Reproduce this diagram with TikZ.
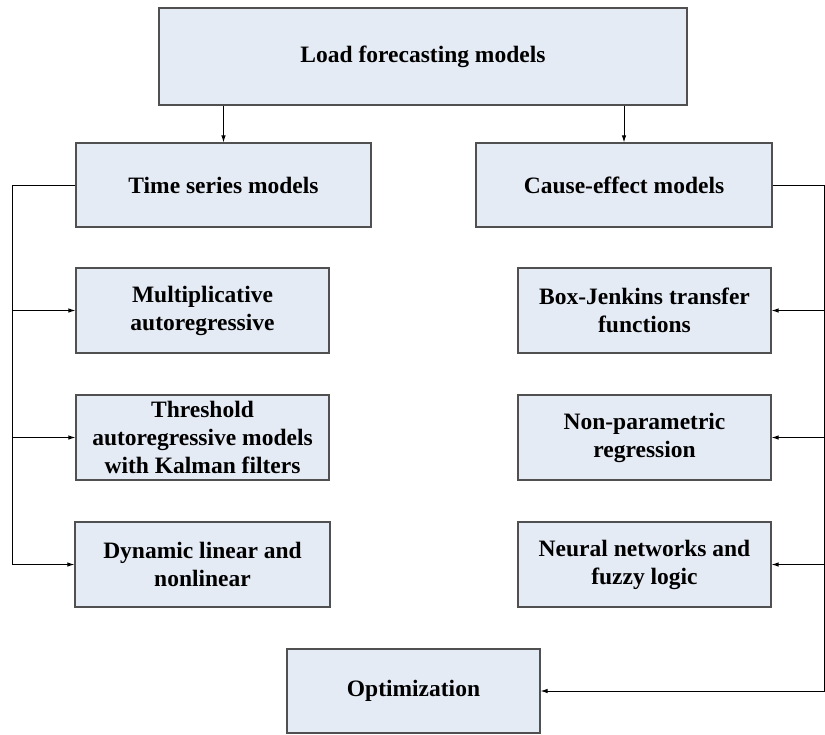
\documentclass[tikz,border=0pt]{standalone}
\usepackage{fontspec}
\setmainfont{Liberation Serif}
\usetikzlibrary{arrows.meta}
\definecolor{boxfill}{RGB}{229,235,245}
\definecolor{boxline}{RGB}{80,80,80}
\tikzset{
  mbox/.style={draw=boxline, line width=1.2pt, fill=boxfill, align=center,
    font=\fontsize{23.5}{28}\selectfont\bfseries, inner sep=0pt},
  conn/.style={line width=0.9pt, black},
  arr/.style={conn, -{Latex[length=7pt,width=4.5pt]}}
}
\begin{document}
\begin{tikzpicture}[x=1pt,y=-1pt]
\useasboundingbox (0,0) rectangle (825,734);
\node[mbox, minimum width=528pt, minimum height=97pt] (top) at (423,56.5) {Load forecasting models};
\node[mbox, minimum width=295pt, minimum height=84pt] (ts) at (223.5,185) {Time series models};
\node[mbox, minimum width=296pt, minimum height=84pt] (ce) at (624,185) {Cause-effect models};
\node[mbox, minimum width=253pt, minimum height=85pt] (m1) at (202.5,310.5) {Multiplicative\\autoregressive};
\node[mbox, minimum width=253pt, minimum height=85pt] (m2) at (202.5,437.5) {Threshold\\autoregressive models\\with Kalman filters};
\node[mbox, minimum width=255pt, minimum height=85pt] (m3) at (202.5,564.5) {Dynamic linear and\\nonlinear};
\node[mbox, minimum width=253pt, minimum height=85pt] (c1) at (644.5,310.5) {Box-Jenkins transfer\\functions};
\node[mbox, minimum width=253pt, minimum height=85pt] (c2) at (644.5,437.5) {Non-parametric\\regression};
\node[mbox, minimum width=253pt, minimum height=85pt] (c3) at (644.5,564.5) {Neural networks and\\fuzzy logic};
\node[mbox, minimum width=253pt, minimum height=84pt] (opt) at (413.5,691) {Optimization};
\coordinate (lx) at (12,0);
\coordinate (rx) at (824.4,0);
% top arrows
\draw[arr] (top.south -| ts.north) -- (ts.north);
\draw[arr] (top.south -| ce.north) -- (ce.north);
% left tree
\draw[arr] (ts.west) -- (ts.west -| lx) |- (m3.west);
\draw[arr] (m1.west -| lx) -- (m1.west);
\draw[arr] (m2.west -| lx) -- (m2.west);
% right tree
\draw[arr] (ce.east) -- (ce.east -| rx) |- (opt.east);
\draw[arr] (c1.east -| rx) -- (c1.east);
\draw[arr] (c2.east -| rx) -- (c2.east);
\draw[arr] (c3.east -| rx) -- (c3.east);
\end{tikzpicture}
\end{document}
